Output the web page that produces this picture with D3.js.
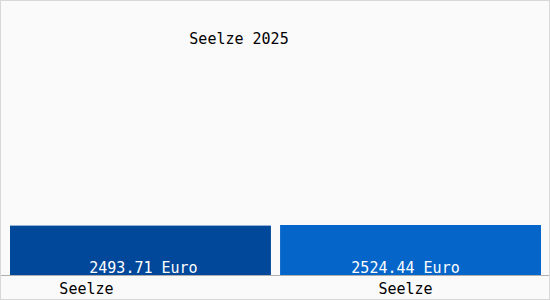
<!DOCTYPE html>
<html><head><meta charset="utf-8">
<script src="https://cdn.jsdelivr.net/npm/d3@7"></script>
<style>html,body{margin:0;padding:0;background:#fff}</style>
</head><body>
<script>
const title = "Seelze 2025";
const categories = ["Seelze", "Seelze"];
const values = [2493.71, 2524.44];
const valueLabels = ["2493.71 Euro", "2524.44 Euro"];
const colors = ["#02489a", "#0565c9"];

const W = 550, H = 300;
const svg = d3.select("body").append("svg").attr("width", W).attr("height", H);
svg.append("rect").attr("x", 0.5).attr("y", 0.5).attr("width", W - 1).attr("height", H - 1)
  .attr("fill", "#fafafa").attr("stroke", "#d8d8d8").attr("stroke-width", 1);

const x = d3.scaleBand().domain(d3.range(values.length)).range([10, 541]).paddingInner(9 / 265.5).paddingOuter(0);
const y = d3.scaleLinear().domain([0, 12622]).range([275, 25]);

svg.append("text").attr("x", 239).attr("y", 44).attr("text-anchor", "middle")
  .attr("font-family", "DejaVu Sans Mono").attr("font-size", 15).attr("fill", "#000").text(title);

svg.selectAll("rect.bar").data(values).enter().append("rect").attr("class", "bar")
  .attr("x", (d, i) => x(i)).attr("width", x.bandwidth())
  .attr("y", d => y(d)).attr("height", d => y(0) - y(d))
  .attr("fill", (d, i) => colors[i]);

const valOffset = [3, -5];
svg.selectAll("text.val").data(valueLabels).enter().append("text").attr("class", "val")
  .attr("x", (d, i) => x(i) + x.bandwidth() / 2 + valOffset[i]).attr("y", 273).attr("text-anchor", "middle")
  .attr("font-family", "DejaVu Sans Mono").attr("font-size", 15).attr("fill", "#fff").text(d => d);

svg.append("line").attr("x1", 1).attr("x2", W - 1).attr("y1", 275.5).attr("y2", 275.5)
  .attr("stroke", "#b0b0b0").attr("stroke-width", 1);

const labelOffset = [-54, -5];
svg.selectAll("text.cat").data(categories).enter().append("text").attr("class", "cat")
  .attr("x", (d, i) => x(i) + x.bandwidth() / 2 + labelOffset[i]).attr("y", 294).attr("text-anchor", "middle")
  .attr("font-family", "DejaVu Sans Mono").attr("font-size", 15).attr("fill", "#000").text(d => d);
</script>
</body></html>
